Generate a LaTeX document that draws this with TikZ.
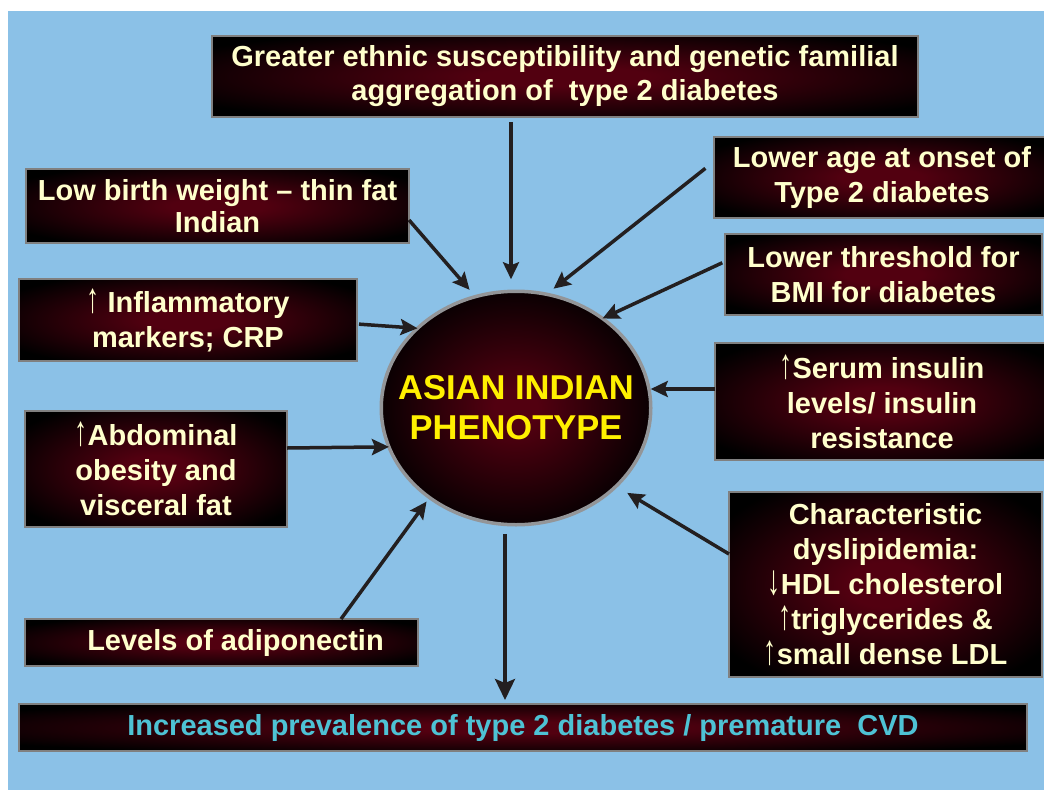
\documentclass[tikz,border=0pt]{standalone}
\usepackage{fontspec}
\usepackage{graphicx}
\setmainfont{Liberation Sans}
\newfontfamily\arrfont{Liberation Sans}
\usetikzlibrary{arrows.meta,shapes.geometric}
\definecolor{bgblue}{RGB}{139,193,231}
\definecolor{cream}{RGB}{255,255,204}
\definecolor{cyantxt}{RGB}{78,194,212}
\definecolor{yellowtxt}{RGB}{255,240,0}
\definecolor{glowc}{RGB}{82,0,16}
\definecolor{arrc}{RGB}{35,31,32}
\definecolor{ellborder}{RGB}{147,149,152}
\pgfdeclareradialshading{boxglow}{\pgfpoint{0bp}{0bp}}{color(0bp)=(glowc); color(6bp)=(glowc); color(31bp)=(black); color(50bp)=(black)}
\pgfdeclareradialshading{ellglow}{\pgfpoint{0bp}{0bp}}{color(0bp)=(glowc); color(4bp)=(glowc); color(28bp)=(black); color(50bp)=(black)}
\newcommand{\up}{{\arrfont\mdseries\scalebox{0.9}[1.45]{↑}}}
\newcommand{\dn}{{\arrfont\mdseries\scalebox{0.9}[1.45]{↓}}}
\tikzset{
  box/.style={draw=gray, line width=1.3pt, shading=boxglow, rectangle, inner sep=0pt, outer sep=0pt,
    text=cream, align=center, font=\bfseries\fontsize{29}{35}\selectfont},
  conn/.style={draw=arrc, line width=3.5pt, -{Stealth[length=17pt,width=16pt,inset=3pt]}},
}
\begin{document}
\begin{tikzpicture}[x=1pt,y=-1pt]
\useasboundingbox (0,0) rectangle (1044,790);
\fill[white] (0,0) rectangle (1044,790);
\fill[bgblue] (8,11) rectangle (1044,790);

\node[box, minimum width=706pt, minimum height=81pt, font=\bfseries\fontsize{29}{34}\selectfont] (top) at (565,76.5)
  {Greater ethnic susceptibility and genetic familial\\aggregation of~ type 2 diabetes};
\node[box, minimum width=383pt, minimum height=74pt, font=\bfseries\fontsize{29}{32}\selectfont] (low) at (217.5,206)
  {Low birth weight – thin fat\\Indian};
\node[box, minimum width=336pt, minimum height=81pt] (age) at (882,177.5)
  {Lower age at onset of\\Type 2 diabetes};
\node[box, minimum width=317pt, minimum height=81pt] (bmi) at (883.5,274.5)
  {Lower threshold for\\BMI for diabetes};
\node[box, minimum width=338pt, minimum height=82pt] (infl) at (188,320)
  {\up\ Inflammatory\\markers; CRP};
\node[box, minimum width=334pt, minimum height=117pt] (ser) at (882,401.5)
  {\up Serum insulin\\levels/ insulin\\resistance};
\node[box, minimum width=262pt, minimum height=116pt] (abd) at (156,469)
  {\up Abdominal\\obesity and\\visceral fat};
\node[box, minimum width=313pt, minimum height=185pt] (dys) at (885.5,584.5)
  {Characteristic\\dyslipidemia:\\\dn HDL cholesterol\\\up triglycerides \&\\\up small dense LDL};
\node[box, minimum width=393pt, minimum height=47pt] (adi) at (221.5,642.5)
  {\hspace*{28pt}Levels of adiponectin};
\node[box, minimum width=1008pt, minimum height=47pt, text=cyantxt] (bot) at (523,727.5)
  {Increased prevalence of type 2 diabetes / premature~ CVD};

\node[ellipse, draw=ellborder, line width=3.5pt, shading=ellglow, minimum width=269.5pt, minimum height=233.5pt,
  inner sep=0pt, outer sep=0pt] (ell) at (516,408) {};
\node[text=yellowtxt, align=center, inner sep=0pt, font=\bfseries\fontsize{34.5}{40}\selectfont] (elltext) at (ell.center)
  {ASIAN INDIAN\\PHENOTYPE};

\draw[conn, shorten <=5pt, shorten >=12pt] ([xshift=-54pt]top.south) -- ([xshift=-54pt]top.south |- ell.north);
\draw[conn, shorten >=9pt] ([yshift=-14pt]low.east) -- (ell.110.8);
\draw[conn, shorten <=11pt, shorten >=9pt] ([yshift=16pt]age.west) -- (ell.75);
\draw[conn, shorten <=3pt] ([yshift=13pt]bmi.west) -- (ell.46.3);
\draw[conn, shorten <=2pt] ([yshift=-4pt]infl.east) -- (ell.141);
\draw[conn] ([yshift=12.5pt]ser.west) -- ([yshift=12.5pt]ser.west -| ell.east);
\draw[conn] ([yshift=21pt]abd.east) -- (ell.197.2);
\draw[conn, shorten >=13pt] ([yshift=30.5pt]dys.west) -- (ell.322.2);
\draw[conn, shorten >=5pt] ([xshift=119.5pt]adi.north) -- (ell.226.5);
\draw[conn, shorten <=9pt, shorten >=4pt, -{Stealth[length=21pt,width=20pt,inset=4pt]}] ([xshift=-11pt]ell.south) -- ([xshift=-11pt]ell.south |- bot.north);
\end{tikzpicture}
\end{document}
